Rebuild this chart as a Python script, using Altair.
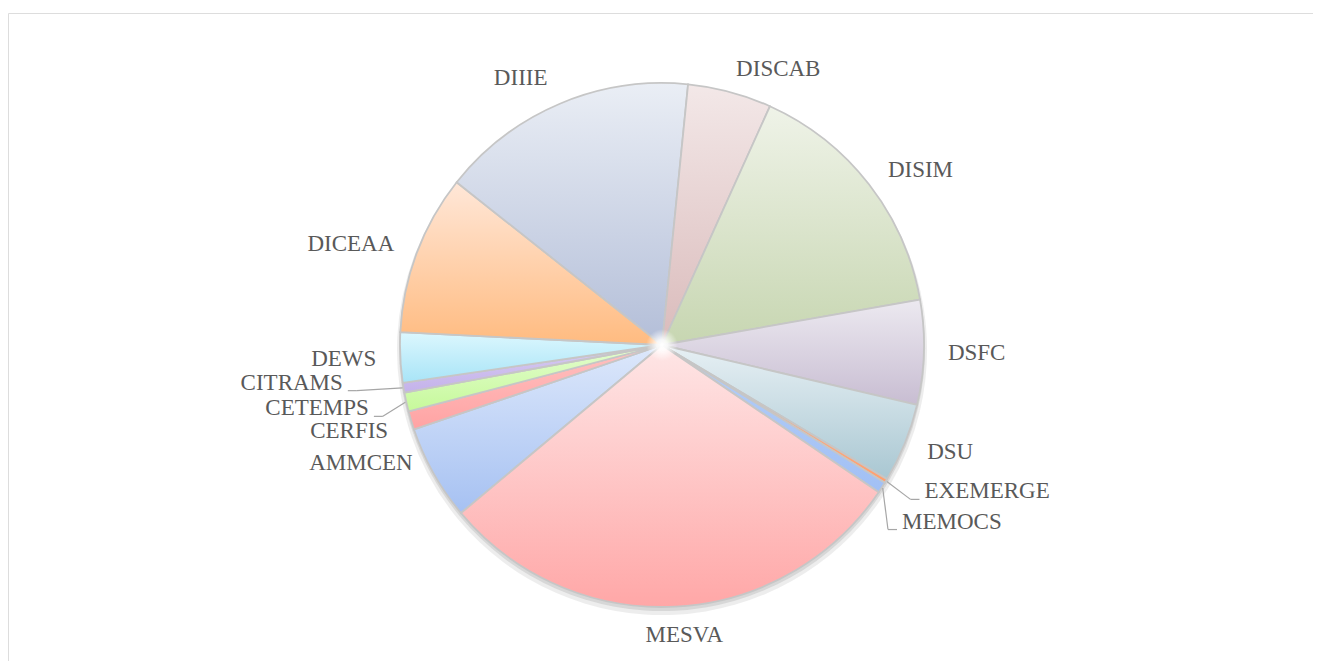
import math
import altair as alt
import pandas as pd

# ---- data ----
names = ["AMMCEN", "CERFIS", "CETEMPS", "CITRAMS", "DEWS", "DICEAA", "DIIIE",
         "DISCAB", "DISIM", "DSFC", "DSU", "EXEMERGE", "MEMOCS", "MESVA"]
values = [5.86, 1.14, 1.17, 0.61, 3.08, 9.89, 15.92,
          5.17, 15.47, 6.44, 4.89, 0.25, 0.69, 29.42]

# ---- styles ----
top_colors = ["#dde8fb", "#ffc2c2", "#e4fdd0", "#d8ccf2", "#dcf7fe", "#ffe7d8", "#eaeef5",
              "#f3e8e8", "#eff3e8", "#ece9f0", "#e7f0f4", "#ffb690", "#b4cef8", "#fee6e6"]
bottom_colors = ["#a6c1f2", "#ffa3a3", "#c6f99a", "#c4b2ea", "#a8e4f7", "#ffbb80", "#b3bed8",
                 "#dabbbb", "#c7d6b1", "#c8bdd2", "#a9c7d2", "#ffa070", "#a2c0f4", "#ffa7a7"]
START_DEG = 230.1
W, H = 1305, 648
CX, CY = 654, 332
R = 262
LABEL_R = 286
FONT = "Liberation Serif"
TXT = "#595959"
nudges = {"AMMCEN": (0, -22), "CERFIS": (0, 4), "CETEMPS": (-14, 1), "CITRAMS": (-37, -9),
          "EXEMERGE": (18, -2), "MEMOCS": (0, 21), "MESVA": (8, 4), "DIIIE": (-3, -4)}
leaders = ["CITRAMS", "CETEMPS", "EXEMERGE", "MEMOCS"]

df = pd.DataFrame({"name": names, "value": values, "order": list(range(len(names)))})
total = float(sum(values))
a0 = math.radians(START_DEG)
theta_scale = alt.Scale(domain=[0, total], range=[a0, a0 + 2 * math.pi], zero=False, nice=False)

# mid angles (for label alignment only)
mids = {}
cum = 0.0
for n, v in zip(names, values):
    mids[n] = a0 + 2 * math.pi * (cum + v / 2) / total
    cum += v

layers = []

# soft shadow under the pie
for rr, col, off, op in [(R + 3, "#e8e8e8", 5, 0.8), (R + 1, "#c8c8c8", 3, 0.6)]:
    layers.append(
        alt.Chart().mark_arc(radius=rr, color=col, opacity=op).encode(
            theta=alt.Theta("start:Q", scale=theta_scale, stack=None),
            theta2="end:Q",
            x=alt.value(CX), y=alt.value(CY + off),
        )
    )

# slices with vertical gradients
for n, tc, bc in zip(names, top_colors, bottom_colors):
    grad = alt.Gradient(
        gradient="linear",
        stops=[alt.GradientStop(color=tc, offset=0), alt.GradientStop(color=bc, offset=1)],
        x1=0, x2=0, y1=0, y2=1,
    )
    layers.append(
        alt.Chart().transform_filter(alt.datum.name == n)
        .mark_arc(radius=R, color=grad, stroke="#c6c6c6", strokeWidth=1.8)
        .encode(
            theta=alt.Theta("start:Q", scale=theta_scale, stack=None),
            theta2="end:Q",
            x=alt.value(CX), y=alt.value(CY),
        )
    )

# centre glow
glow = alt.RadialGradient(
    gradient="radial",
    stops=[alt.GradientStop(color="#ffffff", offset=0),
           alt.GradientStop(color="rgba(255,255,255,0.85)", offset=0.35),
           alt.GradientStop(color="rgba(255,255,255,0)", offset=1)],
    x1=0.5, y1=0.5, x2=0.5, y2=0.5, r1=0, r2=0.5,
)
layers.append(
    alt.Chart().transform_filter(alt.datum.name == names[0])
    .mark_point(shape="circle", size=1000, filled=True, fill=glow, strokeOpacity=0, opacity=1)
    .encode(x=alt.value(CX), y=alt.value(CY))
)

# leader lines
for n in leaders:
    a = mids[n]
    s = 1 if math.sin(a) > 0 else -1
    dx, dy = nudges.get(n, (0, 0))
    ax = f"({CX} + {LABEL_R}*sin(datum.ang) + {dx})"
    ay = f"({CY} - {LABEL_R}*cos(datum.ang) + {dy})"
    base = alt.Chart().transform_filter(alt.datum.name == n).transform_calculate(
        sx=f"{CX} + {R + 1}*sin(datum.ang)",
        sy=f"{CY} - {R + 1}*cos(datum.ang)",
        kx=f"{ax} - {s}*14",
        ky=f"{ay} + 8",
        ex=f"{ax} - {s}*5",
        ey=f"{ay} + 8",
    )
    layers.append(
        base.mark_rule(color="#a6a6a6", strokeWidth=1.2).encode(
            x=alt.X("sx:Q", scale=None, axis=None), y=alt.Y("sy:Q", scale=None, axis=None),
            x2="kx:Q", y2="ky:Q",
        )
    )
    layers.append(
        base.mark_rule(color="#a6a6a6", strokeWidth=1.2).encode(
            x=alt.X("kx:Q", scale=None, axis=None), y=alt.Y("ky:Q", scale=None, axis=None),
            x2="ex:Q", y2="ey:Q",
        )
    )

# labels
for n in names:
    a = mids[n]
    sn = math.sin(a)
    if sn > 0.15:
        align = "left"
    elif sn < -0.15:
        align = "right"
    else:
        align = "center"
    dx, dy = nudges.get(n, (0, 0))
    layers.append(
        alt.Chart().transform_filter(alt.datum.name == n)
        .mark_text(align=align, baseline="middle", dx=dx, dy=dy, radius=LABEL_R,
                   font=FONT, fontSize=23, color=TXT)
        .encode(
            theta=alt.Theta("mid:Q", scale=theta_scale, stack=None),
            text="name:N",
            x=alt.value(CX), y=alt.value(CY),
        )
    )

chart = (
    alt.layer(*layers, data=df)
    .transform_window(cum="sum(value)", sort=[alt.SortField("order")])
    .transform_calculate(
        start="datum.cum - datum.value",
        end="datum.cum",
        mid="datum.cum - datum.value / 2",
        ang=f"{a0} + 2*PI*(datum.cum - datum.value/2)/{total}",
    )
    .properties(width=W, height=H, padding={"left": 0, "top": 5, "right": 0, "bottom": 0})
    .configure_view(stroke="#d9d9d9", strokeWidth=1.6)
    .configure(background="white")
)

chart.save("out.html", embed_options={"renderer": "svg", "actions": False})
